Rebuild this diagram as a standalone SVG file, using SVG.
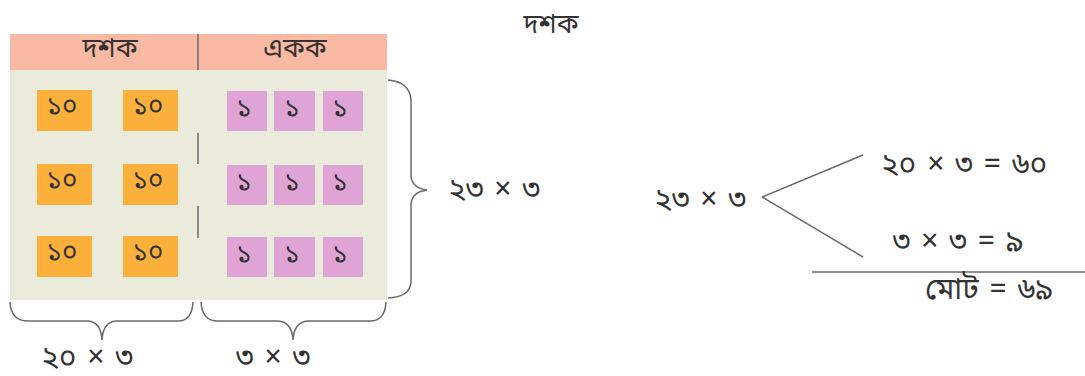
<svg xmlns="http://www.w3.org/2000/svg" width="1085" height="376" viewBox="0 0 1085 376">
<style>
text{font-family:"Noto Sans","Noto Sans Bengali","Lohit Bengali",sans-serif;fill:#333;}
.t{font-size:26px;text-anchor:middle;}
.h{font-size:27px;text-anchor:middle;}
.l{font-size:30px;text-anchor:middle;word-spacing:3px;}
.o{fill:#FBB03B;}
.p{fill:#E0A3D6;}
.ln{stroke:#6a6a6a;stroke-width:1.5;fill:none;}
</style>
<rect width="1085" height="376" fill="#fff"/>
<g id="table">
<rect x="10" y="34" width="377" height="36" fill="#F9B9A2"/>
<rect x="10" y="70" width="377" height="230" fill="#EBEBDC"/>
<line class="ln" x1="198" y1="34" x2="198" y2="70"/>
<line class="ln" x1="198" y1="133" x2="198" y2="164"/>
<line class="ln" x1="198" y1="206" x2="198" y2="238"/>
<text class="h" x="110" y="57">দশক</text>
<text class="h" x="295" y="57">একক</text>
</g>
<g id="tens">
<rect class="o" x="37" y="90" width="55" height="41"/>
<rect class="o" x="123" y="90" width="55" height="41"/>
<rect class="o" x="37" y="164" width="55" height="41"/>
<rect class="o" x="123" y="164" width="55" height="41"/>
<rect class="o" x="37" y="236" width="55" height="41"/>
<rect class="o" x="123" y="236" width="55" height="41"/>
<text class="t" x="62" y="114">১০</text>
<text class="t" x="148" y="114">১০</text>
<text class="t" x="62" y="188">১০</text>
<text class="t" x="148" y="188">১০</text>
<text class="t" x="62" y="260">১০</text>
<text class="t" x="148" y="260">১০</text>
</g>
<g id="ones">
<rect class="p" x="227" y="91" width="40" height="40"/>
<rect class="p" x="274" y="91" width="41" height="40"/>
<rect class="p" x="323" y="91" width="40" height="40"/>
<rect class="p" x="227" y="165" width="40" height="40"/>
<rect class="p" x="274" y="165" width="41" height="40"/>
<rect class="p" x="323" y="165" width="40" height="40"/>
<rect class="p" x="227" y="237" width="40" height="40"/>
<rect class="p" x="274" y="237" width="41" height="40"/>
<rect class="p" x="323" y="237" width="40" height="40"/>
<text class="t" x="244" y="116">১</text>
<text class="t" x="292" y="116">১</text>
<text class="t" x="340" y="116">১</text>
<text class="t" x="244" y="190">১</text>
<text class="t" x="292" y="190">১</text>
<text class="t" x="340" y="190">১</text>
<text class="t" x="244" y="262">১</text>
<text class="t" x="292" y="262">১</text>
<text class="t" x="340" y="262">১</text>
</g>
<g id="connectors">
<path class="ln" d="M388,80 Q410,82 411,100 L411,176 Q412,188 427,190 Q412,192 411,204 L411,282 Q410,297 388,298"/>
<path class="ln" d="M10,302 Q11,321 28,321 L88,321 Q101,322 102,340 Q103,322 116,321 L178,321 Q192,321 193,302"/>
<path class="ln" d="M201,302 Q202,321 218,321 L278,321 Q292,322 293,340 Q294,322 308,321 L370,321 Q385,321 386,302"/>
<line class="ln" x1="762" y1="197" x2="863" y2="155"/>
<line class="ln" x1="762" y1="197" x2="863" y2="257"/>
<line class="ln" x1="812" y1="272" x2="1085" y2="272"/>
</g>
<g id="labels">
<text class="h" x="551" y="33">দশক</text>
<text class="l" x="494" y="199">২৩ × ৩</text>
<text class="l" x="87" y="367">২০ × ৩</text>
<text class="l" x="273" y="367">৩ × ৩</text>
<text class="l" x="700" y="209">২৩ × ৩</text>
<text class="l" x="964" y="174">২০ × ৩ = ৬০</text>
<text class="l" x="958" y="251">৩ × ৩ = ৯</text>
<text class="l" x="989" y="299">মোট = ৬৯</text>
</g>
</svg>
